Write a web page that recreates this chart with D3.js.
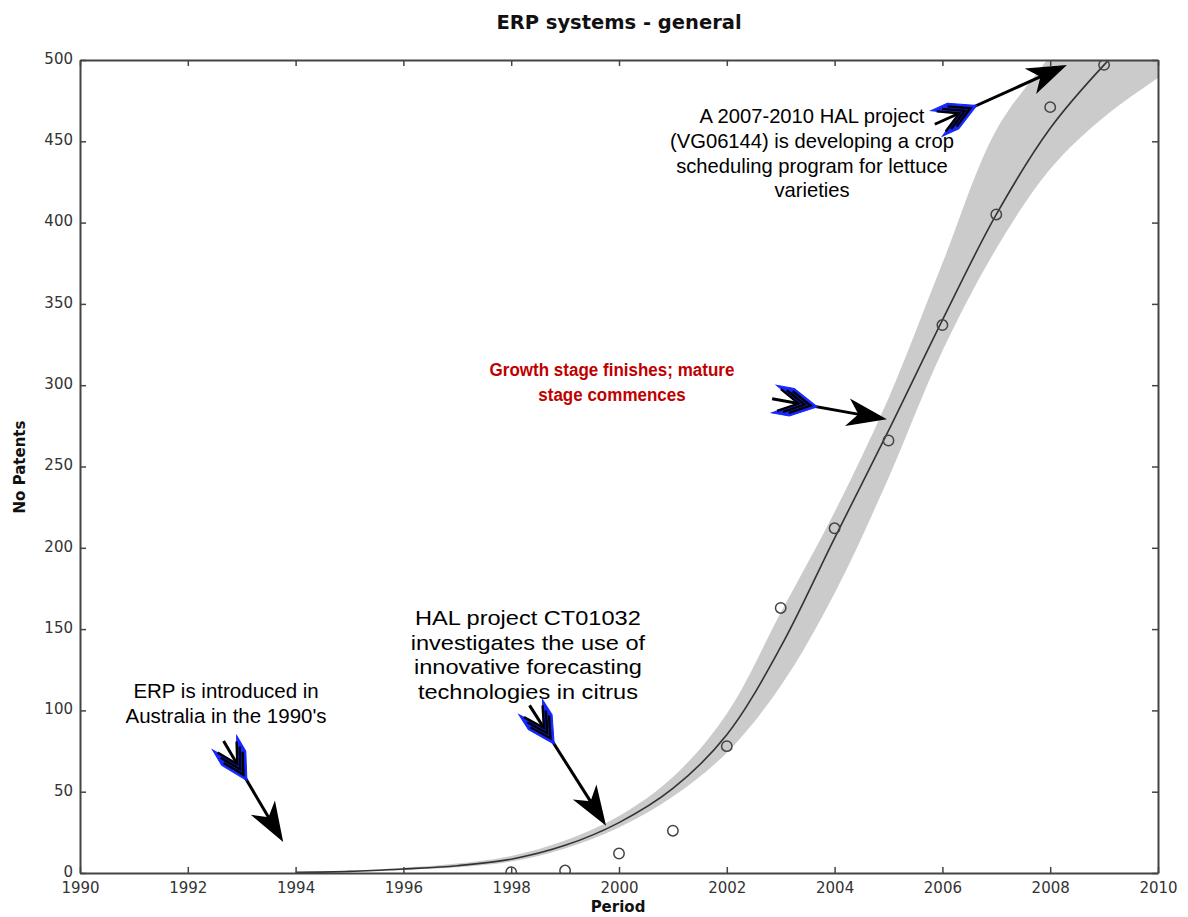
<!DOCTYPE html>
<html>
<head>
<meta charset="utf-8">
<script src="https://cdn.jsdelivr.net/npm/d3@7"></script>
<style>
  html, body { margin: 0; padding: 0; background: #fff; }
  svg { display: block; }
</style>
</head>
<body>
<svg id="chart" width="1188" height="917"></svg>
<script>
// Observed patent counts per year
const obsYears = [1998, 1999, 2000, 2001, 2002, 2003, 2004, 2005, 2006, 2007, 2008, 2009];
const obsCounts = [0.5, 1.5, 12, 26, 78, 163, 212, 266, 337, 405, 471, 497];

// Fitted growth curve and its confidence band
const fitYears = [1994, 1995, 1996, 1997, 1998, 1999, 2000, 2001, 2002, 2003, 2004, 2005, 2006, 2007, 2008, 2009, 2010];
const fitCounts = [0.4, 1, 2.5, 4.5, 8.5, 17, 31, 52, 85, 139, 206, 272, 340, 405, 458, 497, 530];
const bandUpper = [0.6, 1.4, 3.2, 5.8, 10.5, 20, 35, 59, 98, 160, 222, 292, 375, 457, 503, 555, 595];
const bandLower = [0.3, 0.7, 1.9, 3.5, 7, 15, 28, 47, 74, 115, 172, 243, 321, 384, 433, 465, 489];

// Axis ticks
const xTicks = [1990, 1992, 1994, 1996, 1998, 2000, 2002, 2004, 2006, 2008, 2010];
const yTicks = [0, 50, 100, 150, 200, 250, 300, 350, 400, 450, 500];

// Annotation texts, their anchor (year, count) and the arrow drawn for each
const noteLines = [
  ["ERP is introduced in", "Australia in the 1990's"],
  ["HAL project CT01032", "investigates the use of", "innovative forecasting", "technologies in citrus"],
  ["Growth stage finishes; mature", "stage commences"],
  ["A 2007-2010 HAL project", "(VG06144) is developing a crop", "scheduling program for lettuce", "varieties"]
];
const noteAnchor = [[1992.71, 107.5], [1998.31, 152.5], [1999.87, 305.5], [2003.58, 461]];
const noteBold = [false, false, true, false];
const arrowTail = [[1992.72, 78], [1998.4, 100], [2002.95, 291], [2005.96, 462]];
const arrowTip = [[1993.77, 19], [1999.76, 29], [2004.97, 279], [2008.31, 497]];

// Type settings for each annotation block
const noteStyle = [
  { size: 20.5, stretch: 1.0 },
  { size: 20.5, stretch: 1.15 },
  { size: 18.5, stretch: 0.92 },
  { size: 20.2, stretch: 1.0 }
];

const svg = d3.select("#chart");
const m = { left: 80, top: 60, right: 1158, bottom: 873 };

const x = d3.scaleLinear().domain([1990, 2010]).range([m.left, m.right]);
const y = d3.scaleLinear().domain([0, 500]).range([m.bottom, m.top]);

svg.append("defs").append("clipPath").attr("id", "plotClip")
  .append("rect").attr("x", m.left).attr("y", m.top)
  .attr("width", m.right - m.left).attr("height", m.bottom - m.top);

const plot = svg.append("g").attr("clip-path", "url(#plotClip)");

// Confidence band
const bandData = fitYears.map((yr, i) => ({ yr, lo: bandLower[i], hi: bandUpper[i] }));
plot.append("path")
  .datum(bandData)
  .attr("fill", "#cbcbcb")
  .attr("d", d3.area().curve(d3.curveCatmullRom)
    .x(d => x(d.yr)).y0(d => y(d.lo)).y1(d => y(d.hi)));

// Fitted curve
plot.append("path")
  .datum(fitYears.map((yr, i) => ({ yr, v: fitCounts[i] })))
  .attr("fill", "none")
  .attr("stroke", "#333")
  .attr("stroke-width", 1.6)
  .attr("d", d3.line().curve(d3.curveCatmullRom).x(d => x(d.yr)).y(d => y(d.v)));

// Observations
plot.selectAll("circle.obs")
  .data(obsYears.map((yr, i) => ({ yr, v: obsCounts[i] })))
  .join("circle")
  .attr("class", "obs")
  .attr("cx", d => x(d.yr))
  .attr("cy", d => y(d.v))
  .attr("r", 5.2)
  .attr("fill", "none")
  .attr("stroke", "#444")
  .attr("stroke-width", 1.5);

// Axes with inward ticks on all four sides
const tickFont = "'DejaVu Sans', sans-serif";
const axB = svg.append("g").attr("transform", `translate(0,${m.bottom})`)
  .call(d3.axisBottom(x).tickValues(xTicks).tickFormat(d3.format("d")).tickSizeInner(-6).tickSizeOuter(0).tickPadding(9));
const axL = svg.append("g").attr("transform", `translate(${m.left},0)`)
  .call(d3.axisLeft(y).tickValues(yTicks).tickSizeInner(-6).tickSizeOuter(0).tickPadding(7));
const axT = svg.append("g").attr("transform", `translate(0,${m.top})`)
  .call(d3.axisTop(x).tickValues(xTicks).tickFormat("").tickSizeInner(-6).tickSizeOuter(0));
const axR = svg.append("g").attr("transform", `translate(${m.right},0)`)
  .call(d3.axisRight(y).tickValues(yTicks).tickFormat("").tickSizeInner(-6).tickSizeOuter(0));
[axB, axL, axT, axR].forEach(g => {
  g.select(".domain").attr("stroke", "#444").attr("stroke-width", 2);
  g.selectAll(".tick line").attr("stroke", "#444").attr("stroke-width", 1.5);
  g.selectAll(".tick text").attr("fill", "#333").style("font-family", tickFont).style("font-size", "15px");
});
axL.selectAll(".tick text").attr("dy", "0.22em");

// Titles
svg.append("text").attr("x", 619).attr("y", 29).attr("text-anchor", "middle")
  .style("font-family", tickFont).style("font-weight", "bold").style("font-size", "19.5px").attr("fill", "#111")
  .text("ERP systems - general");
svg.append("text").attr("x", 618).attr("y", 912).attr("text-anchor", "middle")
  .style("font-family", tickFont).style("font-weight", "bold").style("font-size", "15px").attr("fill", "#111")
  .text("Period");
svg.append("text").attr("transform", "translate(25,467) rotate(-90)").attr("text-anchor", "middle")
  .style("font-family", tickFont).style("font-weight", "bold").style("font-size", "15px").attr("fill", "#111")
  .text("No Patents");

// Annotation texts
noteLines.forEach((lines, i) => {
  const ax = x(noteAnchor[i][0]), ay = y(noteAnchor[i][1]);
  const st = noteStyle[i];
  const t = svg.append("text")
    .attr("transform", `translate(${ax},${ay}) scale(${st.stretch},1)`)
    .attr("text-anchor", "middle")
    .style("font-family", "'Liberation Sans', Arial, sans-serif")
    .style("font-size", st.size + "px")
    .style("font-weight", noteBold[i] ? "bold" : "normal")
    .attr("fill", noteBold[i] ? "#c00000" : "#000");
  lines.forEach((ln, k) => {
    t.append("tspan").attr("x", 0).attr("dy", k === 0 ? 0 : 24.6).text(ln);
  });
});

// Feathered arrows
function drawArrow(tail, tip) {
  const x0 = x(tail[0]), y0 = y(tail[1]);
  const x1 = x(tip[0]), y1 = y(tip[1]);
  const len = Math.hypot(x1 - x0, y1 - y0);
  const ang = Math.atan2(y1 - y0, x1 - x0) * 180 / Math.PI;
  const g = svg.append("g").attr("transform", `translate(${x0},${y0}) rotate(${ang})`);
  // shaft
  g.append("line").attr("x1", -6).attr("y1", 0).attr("x2", len - 24).attr("y2", 0)
    .attr("stroke", "#000").attr("stroke-width", 3);
  // fletching: blue chevron with black stripes
  g.append("path")
    .attr("d", "M-4,-14 L14,-14 L40,0 L14,14 L-4,14 L20,0 Z")
    .attr("fill", "#1428ff").attr("stroke", "#1428ff").attr("stroke-width", 1);
  [0, 6, 12].forEach(o => {
    g.append("path")
      .attr("d", `M${1 + o},-11 L${21 + o},0 L${1 + o},11`)
      .attr("fill", "none").attr("stroke", "#000").attr("stroke-width", 2.4);
  });
  // head
  g.append("path")
    .attr("d", `M${len},0 L${len - 40},-14 L${len - 29},0 L${len - 40},14 Z`)
    .attr("fill", "#000");
}
arrowTail.forEach((t, i) => drawArrow(t, arrowTip[i]));
</script>
</body>
</html>
